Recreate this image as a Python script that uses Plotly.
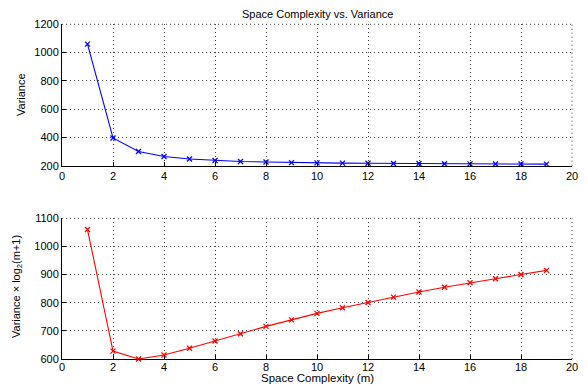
import plotly.graph_objects as go

m = list(range(1, 20))
variance = [1060, 396, 300, 265, 247, 237, 230, 226, 222, 220, 218, 217, 216, 215, 214, 213, 212, 212, 211]
weighted = [1060, 628, 600, 614, 638, 664, 690, 716, 739, 762, 782, 801, 820, 838, 855, 871, 885, 900, 915]

x_ticks = list(range(0, 21, 2))
top_ticks = [200, 400, 600, 800, 1000, 1200]
bot_ticks = [600, 700, 800, 900, 1000, 1100]

W, H = 587, 385
FONT = "Liberation Sans, Arial, Helvetica, sans-serif"
GRID = "#444444"
DOTS = "1px,3px"

fig = go.Figure()
fig.add_trace(go.Scatter(x=m, y=variance, mode="lines+markers",
                         line=dict(color="#0000ff", width=1.1),
                         marker=dict(symbol="x-thin", size=5, line=dict(color="#0000ff", width=1.3)),
                         cliponaxis=False, xaxis="x", yaxis="y", showlegend=False))
fig.add_trace(go.Scatter(x=m, y=weighted, mode="lines+markers",
                         line=dict(color="#ff0000", width=1.1),
                         marker=dict(symbol="x-thin", size=5, line=dict(color="#ff0000", width=1.3)),
                         cliponaxis=False, xaxis="x2", yaxis="y2", showlegend=False))

xdom = [62 / W, 572 / W]
top_dom = [(H - 165.7) / H, (H - 24.3) / H]
bot_dom = [(H - 359) / H, (H - 218.3) / H]

axis_common = dict(showline=True, linecolor="black", linewidth=1, mirror=False,
                   ticks="inside", ticklen=4, tickcolor="black",
                   showgrid=True, gridcolor=GRID, griddash=DOTS, gridwidth=1,
                   zeroline=False, tickfont=dict(family=FONT, size=11, color="black"),
                   automargin=False)

fig.update_layout(
    width=W, height=H,
    margin=dict(l=0, r=0, t=0, b=0),
    paper_bgcolor="white", plot_bgcolor="white",
    font=dict(family=FONT, size=11, color="black"),
    xaxis=dict(domain=xdom, range=[0, 20], tickvals=x_ticks, anchor="y", **axis_common),
    yaxis=dict(domain=top_dom, range=[200, 1200], tickvals=top_ticks, anchor="x", **axis_common),
    xaxis2=dict(domain=xdom, range=[0, 20], tickvals=x_ticks, anchor="y2", ticklabelstandoff=-2, **axis_common),
    yaxis2=dict(domain=bot_dom, range=[600, 1100], tickvals=bot_ticks, anchor="x2", **axis_common),
    annotations=[
        dict(text="Space Complexity vs. Variance", x=317 / W, y=1 - 14 / H, xref="paper", yref="paper",
             showarrow=False, xanchor="center", yanchor="middle", font=dict(size=11)),
        dict(text="Space Complexity (m)", x=317 / W, y=0, xref="paper", yref="paper",
             showarrow=False, xanchor="center", yanchor="bottom", borderpad=0, font=dict(size=11.5)),
        dict(text="Variance", x=21 / W, y=1 - 95 / H, xref="paper", yref="paper", textangle=-90,
             showarrow=False, xanchor="center", yanchor="middle", font=dict(size=11)),
        dict(text="Variance × log<sub>2</sub>(m+1)", x=17 / W, y=1 - 287 / H, xref="paper", yref="paper",
             textangle=-90, showarrow=False, xanchor="center", yanchor="middle", font=dict(size=11)),
    ],
)

# top and right edges of each axes box drawn as dotted lines (grid-like)
for yd in (top_dom, bot_dom):
    fig.add_shape(type="line", xref="paper", yref="paper", x0=xdom[0], x1=xdom[1], y0=yd[1], y1=yd[1],
                  line=dict(color=GRID, width=1, dash=DOTS))
    fig.add_shape(type="line", xref="paper", yref="paper", x0=xdom[1], x1=xdom[1], y0=yd[0], y1=yd[1],
                  line=dict(color=GRID, width=1, dash=DOTS))

fig.write_html("out.html")
